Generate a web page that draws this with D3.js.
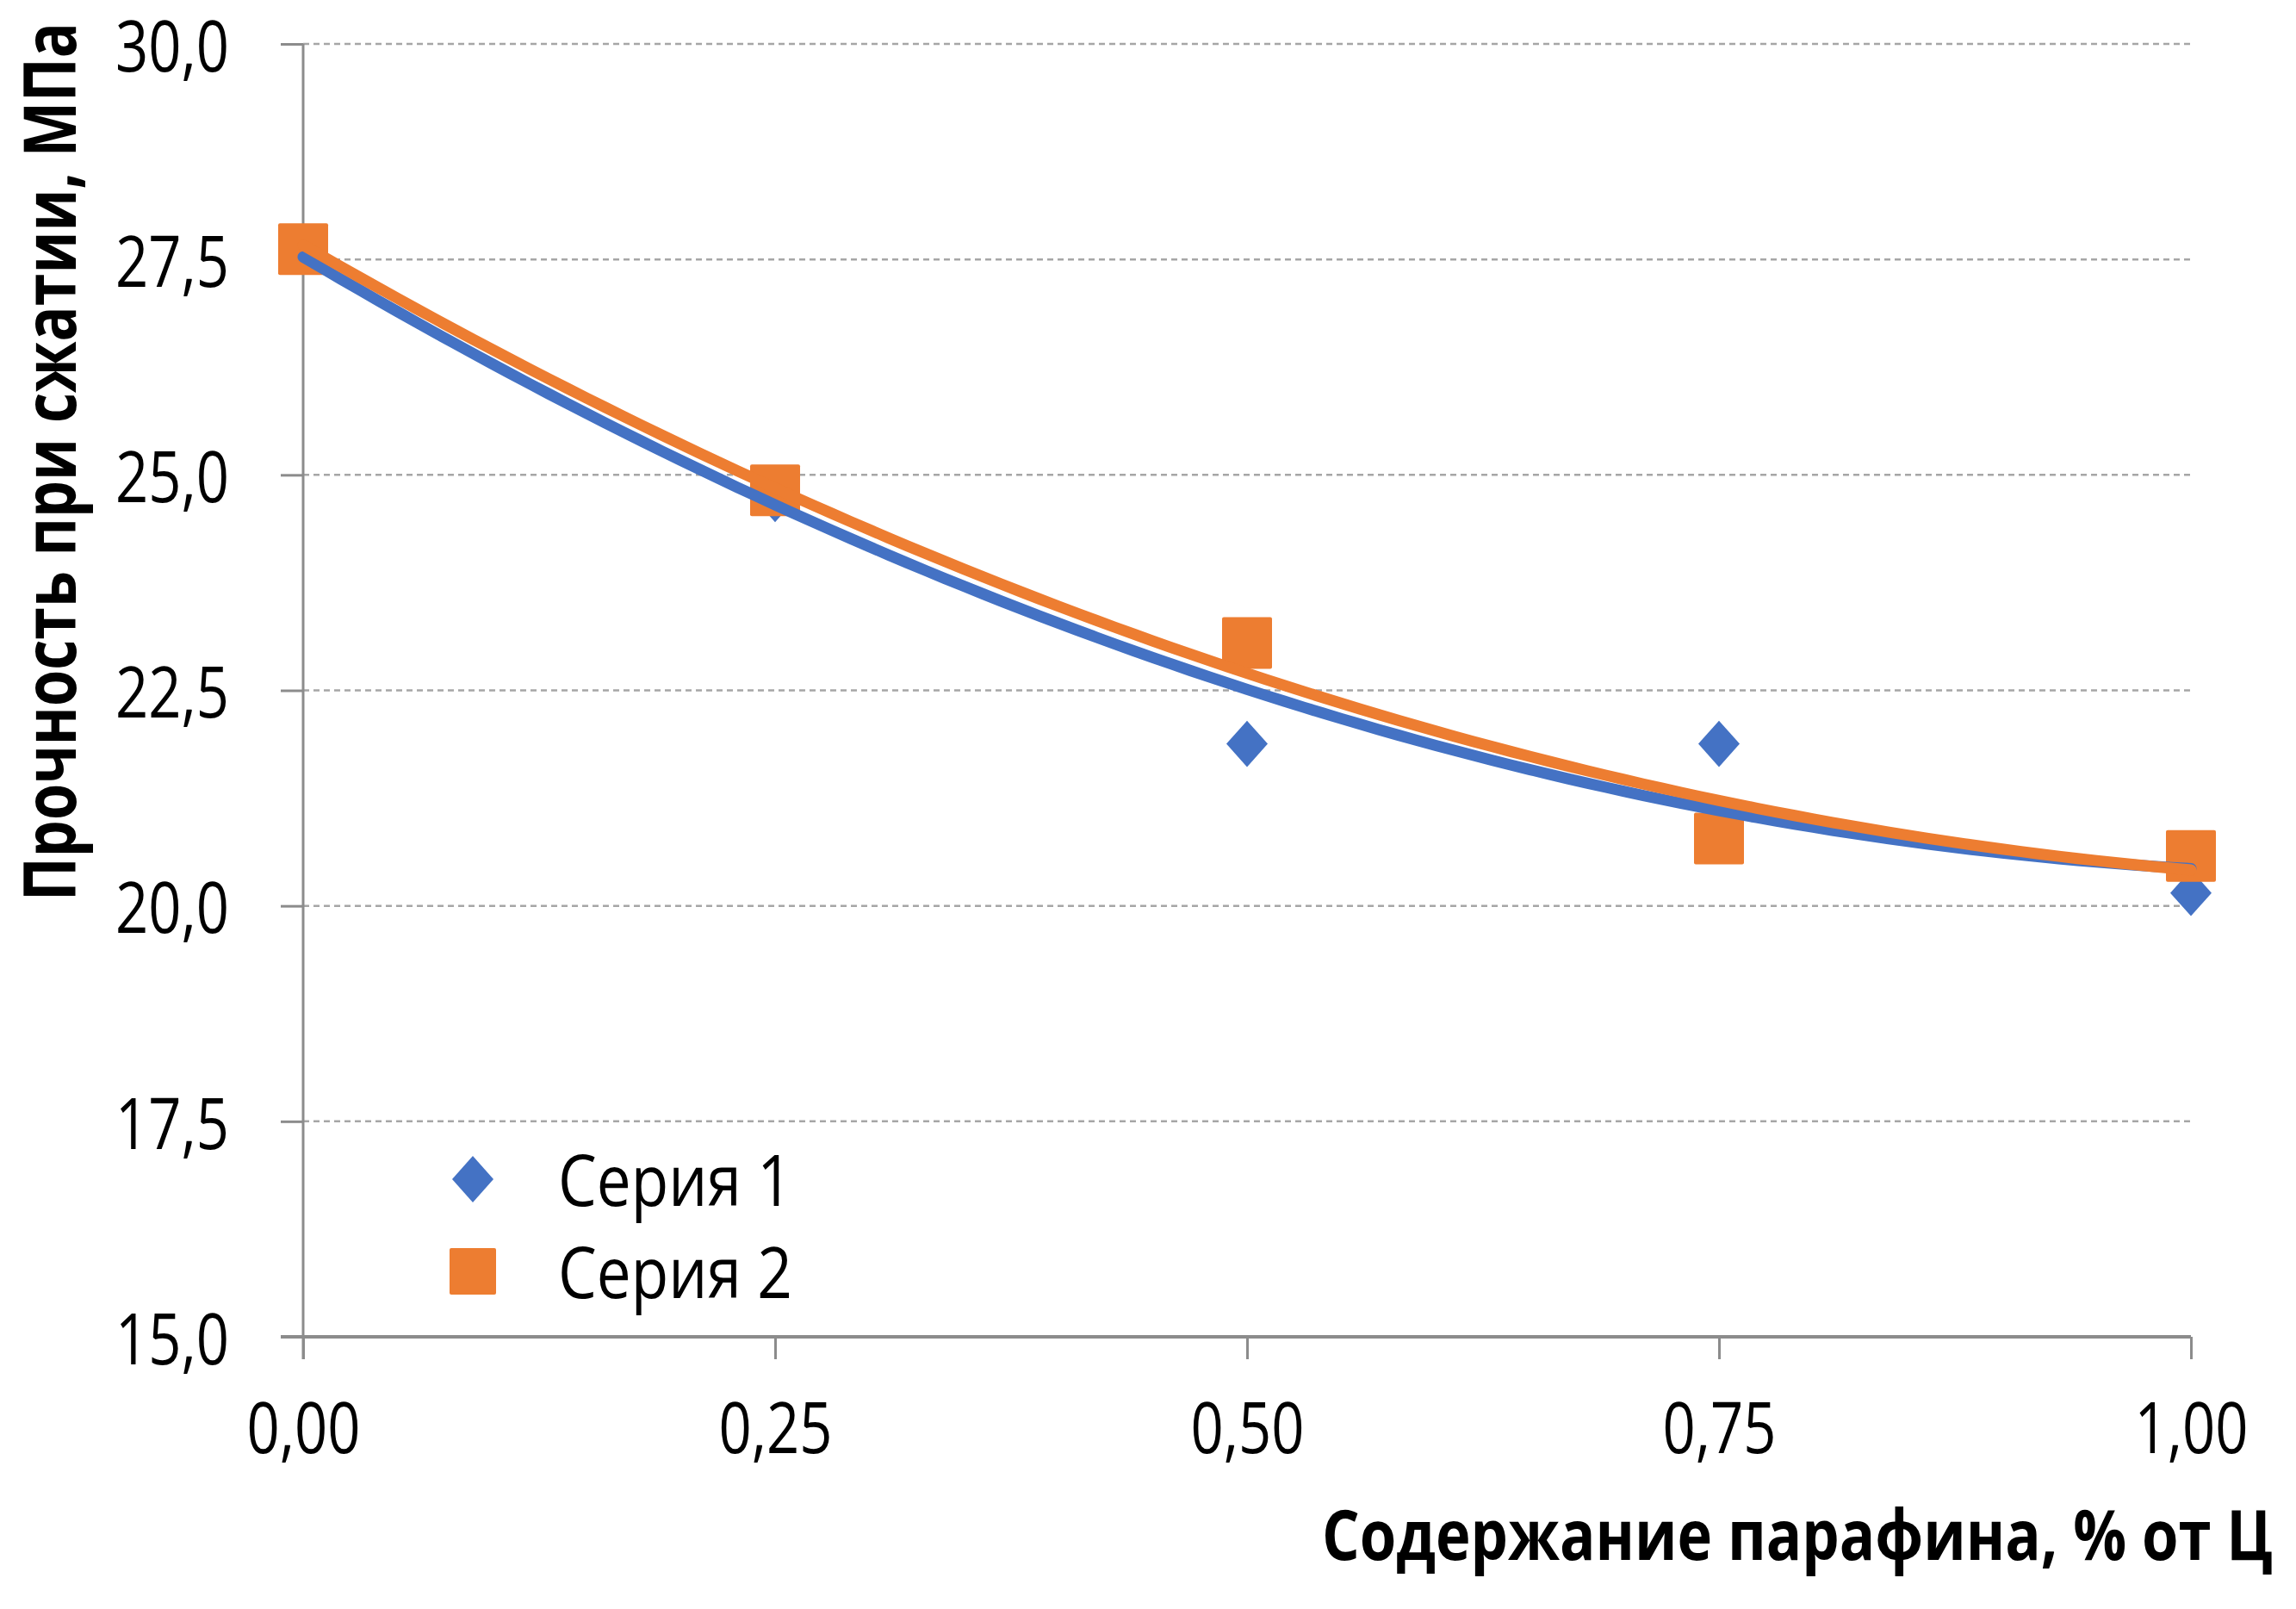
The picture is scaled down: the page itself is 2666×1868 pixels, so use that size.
<!DOCTYPE html>
<html>
<head>
<meta charset="utf-8">
<script src="https://cdn.jsdelivr.net/npm/d3@7"></script>
<style>
  html, body { margin: 0; padding: 0; background: #fff; }
  svg { display: block; font-family: "Open Sans", "Noto Sans", sans-serif; }
</style>
</head>
<body>
<div id="chart-area"></div>
<script>
const paraffin = [0, 0.25, 0.5, 0.75, 1.0];
const series1 = [27.6, 24.72, 21.88, 21.88, 20.15];
const series2 = [27.62, 24.82, 23.05, 20.78, 20.58];
const seriesNames = ["Серия 1", "Серия 2"];
const xTicks = [0, 0.25, 0.5, 0.75, 1.0];
const yTicks = [15, 17.5, 20, 22.5, 25, 27.5, 30];
const xTitle = "Содержание парафина, % от Ц";
const yTitle = "Прочность при сжатии, МПа";

const width = 2666;
const height = 1868;
const margin = { top: 51, right: 122, bottom: 316, left: 352 };
const blue = "#4472C4";
const orange = "#ED7D31";
const axisGrey = "#8C8C8C";

// least squares fit, order 2, like the excel trendline
function polyFit(xs, ys) {
  const s = [0, 0, 0, 0, 0];
  const t = [0, 0, 0];
  xs.forEach((x, i) => {
    for (let k = 0; k < 5; k++) s[k] += Math.pow(x, k);
    for (let k = 0; k < 3; k++) t[k] += ys[i] * Math.pow(x, k);
  });
  const m = [
    [s[0], s[1], s[2], t[0]],
    [s[1], s[2], s[3], t[1]],
    [s[2], s[3], s[4], t[2]],
  ];
  for (let c = 0; c < 3; c++) {
    for (let r = c + 1; r < 3; r++) {
      const f = m[r][c] / m[c][c];
      for (let k = c; k < 4; k++) m[r][k] -= f * m[c][k];
    }
  }
  const coef = [0, 0, 0];
  for (let r = 2; r >= 0; r--) {
    let v = m[r][3];
    for (let k = r + 1; k < 3; k++) v -= m[r][k] * coef[k];
    coef[r] = v / m[r][r];
  }
  return (x) => coef[0] + coef[1] * x + coef[2] * x * x;
}

const svg = d3
  .select("#chart-area")
  .append("svg")
  .attr("width", width)
  .attr("height", height);

const x = d3
  .scaleLinear()
  .domain([0, 1])
  .range([margin.left, width - margin.right]);
const y = d3
  .scaleLinear()
  .domain([15, 30])
  .range([height - margin.bottom, margin.top]);

const comma = (fmt) => (d) => d3.format(fmt)(d).replace(".", ",");

// gridlines
svg
  .append("g")
  .selectAll("line")
  .data(yTicks.filter((d) => d > 15))
  .join("line")
  .attr("x1", x(0))
  .attr("x2", x(1))
  .attr("y1", (d) => y(d))
  .attr("y2", (d) => y(d))
  .attr("stroke", "#A6A6A6")
  .attr("stroke-width", 2.5)
  .attr("stroke-dasharray", "7,5");

// axes
const yAxis = svg
  .append("g")
  .attr("transform", `translate(${x(0)},0)`)
  .call(
    d3.axisLeft(y).tickValues(yTicks).tickFormat(comma(".1f")).tickSize(26).tickPadding(60)
  );
const xAxis = svg
  .append("g")
  .attr("transform", `translate(0,${y(15)})`)
  .call(
    d3.axisBottom(x).tickValues(xTicks).tickFormat(comma(".2f")).tickSize(26).tickPadding(60)
  );

[yAxis, xAxis].forEach((g) => {
  g.select(".domain").remove();
  g.selectAll(".tick line").attr("stroke", axisGrey).attr("stroke-width", 3);
  g.selectAll(".tick text")
    .attr("fill", "#000")
    .attr("textLength", 132)
    .attr("lengthAdjust", "spacingAndGlyphs")
    .style("font-size", "82px")
    .style("font-family", '"Open Sans", "Noto Sans", sans-serif');
});
xAxis.selectAll(".tick text").attr("dy", "0.6em");
yAxis.selectAll(".tick text").attr("dy", "0.38em");

svg
  .append("line")
  .attr("x1", x(0))
  .attr("x2", x(0))
  .attr("y1", y(30))
  .attr("y2", y(15) + 26)
  .attr("stroke", axisGrey)
  .attr("stroke-width", 3);
svg
  .append("line")
  .attr("x1", x(0) - 26)
  .attr("x2", x(1))
  .attr("y1", y(15))
  .attr("y2", y(15))
  .attr("stroke", axisGrey)
  .attr("stroke-width", 4);

// trendlines
const fine = d3.range(0, 1.0001, 0.01);
const trend = (ys) => {
  const f = polyFit(paraffin, ys);
  return d3
    .line()
    .x((d) => x(d))
    .y((d) => y(f(d)))
    .curve(d3.curveLinear)(fine);
};

const diamond = (s) => `M0,${-s * 0.56}L${s * 0.5},0L0,${s * 0.56}L${-s * 0.5},0Z`;

// series 1 markers
svg
  .append("g")
  .selectAll("path")
  .data(paraffin)
  .join("path")
  .attr("transform", (d, i) => `translate(${x(d)},${y(series1[i])})`)
  .attr("d", diamond(48))
  .attr("fill", blue);

// series 2 markers
svg
  .append("g")
  .selectAll("rect")
  .data(paraffin)
  .join("rect")
  .attr("x", (d) => x(d) - 29)
  .attr("y", (d, i) => y(series2[i]) - 30)
  .attr("width", 58)
  .attr("height", 60)
  .attr("rx", 2)
  .attr("fill", orange);

svg
  .append("path")
  .attr("d", trend(series1))
  .attr("fill", "none")
  .attr("stroke", blue)
  .attr("stroke-width", 13)
  .attr("stroke-linecap", "round");
svg
  .append("path")
  .attr("d", trend(series2))
  .attr("fill", "none")
  .attr("stroke", orange)
  .attr("stroke-width", 13)
  .attr("stroke-linecap", "round");

// legend
const legend = svg.append("g").attr("transform", "translate(549, 1369)");
legend.append("path").attr("d", diamond(48)).attr("fill", blue);
legend
  .append("rect")
  .attr("x", -27)
  .attr("y", 107 - 27)
  .attr("width", 54)
  .attr("height", 54)
  .attr("rx", 2)
  .attr("fill", orange);
legend
  .selectAll("text")
  .data(seriesNames)
  .join("text")
  .attr("x", 99)
  .attr("y", (d, i) => i * 107)
  .attr("dy", "0.38em")
  .attr("textLength", 272)
  .attr("lengthAdjust", "spacingAndGlyphs")
  .style("font-size", "82px")
  .text((d) => d);

// axis titles
svg
  .append("text")
  .attr("x", 2639)
  .attr("y", 1811)
  .attr("text-anchor", "end")
  .attr("textLength", 1104)
  .attr("lengthAdjust", "spacingAndGlyphs")
  .style("font-size", "80px")
  .style("font-weight", "bold")
  .text(xTitle);

svg
  .append("text")
  .attr("transform", "translate(88, 1046) rotate(-90)")
  .attr("text-anchor", "start")
  .attr("textLength", 1020)
  .attr("lengthAdjust", "spacingAndGlyphs")
  .style("font-size", "84px")
  .style("font-weight", "bold")
  .text(yTitle);
</script>
</body>
</html>
